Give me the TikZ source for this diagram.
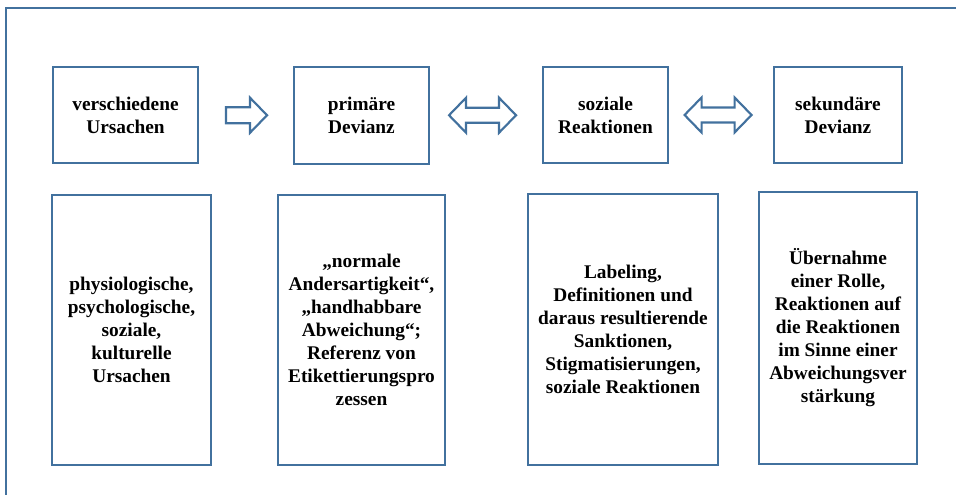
\documentclass[tikz,border=0pt]{standalone}
\usepackage{fontspec}
\setmainfont{Liberation Serif}
\usetikzlibrary{calc}
\definecolor{frameblue}{RGB}{66,113,158}
\tikzset{
  box/.style={draw=frameblue, line width=2.1pt, inner sep=0pt, align=center,
    text=black, font=\bfseries\fontsize{14.5}{17.25}\selectfont},
  arrowline/.style={draw=frameblue, line width=1.6pt, fill=white, line join=miter},
  rightarrow/.pic={
    \draw[arrowline] (-20.5,-8) -- (3.5,-8) -- (3.5,-17.5) -- (20.5,0)
      -- (3.5,17.5) -- (3.5,8) -- (-20.5,8) -- cycle;},
  botharrow/.pic={
    \draw[arrowline] (-33.5,0) -- (-16.5,-17.5) -- (-16.5,-7.5) -- (16.5,-7.5)
      -- (16.5,-17.5) -- (33.5,0) -- (16.5,17.5) -- (16.5,7.5)
      -- (-16.5,7.5) -- (-16.5,17.5) -- cycle;}
}
\begin{document}
\begin{tikzpicture}[x=0.75pt,y=-0.75pt]
\useasboundingbox (0,0) rectangle (956,495);

% outer frame (left and top edges)
\draw[frameblue, line width=2.1pt, line join=miter] (6,500) -- (6,8) -- (960,8);

% upper row
\node[box, minimum width={145*0.75pt}, minimum height={96*0.75pt}] (b1) at (125.5,115) {verschiedene\\Ursachen};
\node[box, minimum width={135*0.75pt}, minimum height={97*0.75pt}] (b2) at (361.5,115.5) {primäre\\Devianz};
\node[box, minimum width={125*0.75pt}, minimum height={96*0.75pt}] (b3) at (605.5,115) {soziale\\Reaktionen};
\node[box, minimum width={128*0.75pt}, minimum height={96*0.75pt}] (b4) at (838,115) {sekundäre\\Devianz};

% lower row
\node[box, minimum width={159*0.75pt}, minimum height={270*0.75pt}] (c1) at (131.5,330)
  {physiologische,\\psychologische,\\soziale,\\kulturelle\\Ursachen};
\node[box, minimum width={167*0.75pt}, minimum height={270*0.75pt}] (c2) at (361.5,330)
  {„normale\\Andersartigkeit“,\\„handhabbare\\Abweichung“;\\Referenz von\\Etikettierungspro\\zessen};
\node[box, minimum width={190*0.75pt}, minimum height={271*0.75pt}] (c3) at (623,329.5)
  {Labeling,\\Definitionen und\\daraus resultierende\\Sanktionen,\\Stigmatisierungen,\\soziale Reaktionen};
\node[box, minimum width={158*0.75pt}, minimum height={272*0.75pt}] (c4) at (838,328)
  {Übernahme\\einer Rolle,\\Reaktionen auf\\die Reaktionen\\im Sinne einer\\Abweichungsver\\stärkung};

% block arrows between the upper boxes
\coordinate (m1) at ($(b1.east)!0.5!(b2.west)$);
\coordinate (m2) at ($(b2.east)!0.5!(b3.west)$);
\coordinate (m3) at ($(b3.east)!0.5!(b4.west)$);
\pic at ([xshift=0.4pt]m1) {rightarrow};
\pic at ([xshift=-2.6pt]m2) {botharrow};
\pic at ([xshift=-2.2pt]m3) {botharrow};
\end{tikzpicture}
\end{document}
